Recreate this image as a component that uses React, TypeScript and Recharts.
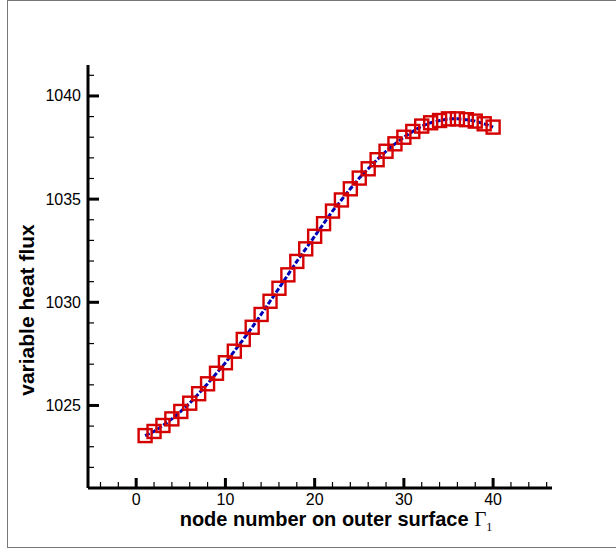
import * as React from "react";
import { LineChart, Line, XAxis, YAxis } from "recharts";

// node numbers on the outer surface
const NODES = [
  1, 2, 3, 4, 5, 6, 7, 8, 9, 10, 11, 12, 13, 14, 15, 16, 17, 18, 19, 20,
  21, 22, 23, 24, 25, 26, 27, 28, 29, 30, 31, 32, 33, 34, 35, 36, 37, 38, 39, 40,
];

// heat flux
const HEAT_FLUX = [
  1023.54, 1023.74, 1024.03, 1024.35, 1024.71, 1025.11, 1025.57, 1026.05, 1026.56, 1027.07,
  1027.63, 1028.2, 1028.79, 1029.41, 1030.05, 1030.68, 1031.33, 1031.98, 1032.59, 1033.2,
  1033.81, 1034.42, 1034.96, 1035.5, 1036.02, 1036.47, 1036.91, 1037.32, 1037.68, 1038.0,
  1038.28, 1038.54, 1038.7, 1038.81, 1038.89, 1038.89, 1038.85, 1038.78, 1038.65, 1038.49,
];

const X_TICKS = [-4, -2, 0, 2, 4, 6, 8, 10, 12, 14, 16, 18, 20, 22, 24, 26, 28, 30, 32, 34, 36, 38, 40, 42, 44, 46];
const Y_TICKS = [
  1021, 1022, 1023, 1024, 1025, 1026, 1027, 1028, 1029, 1030, 1031,
  1032, 1033, 1034, 1035, 1036, 1037, 1038, 1039, 1040, 1041,
];

const data = NODES.map((n, i) => ({ node: n, q: HEAT_FLUX[i] }));

const SANS = "'Liberation Sans', Arial, Helvetica, sans-serif";
const SERIF = "'Liberation Serif', 'Times New Roman', serif";

const XTick = (props: any) => {
  const { x, y, payload } = props;
  const v = payload.value;
  const major = v % 10 === 0;
  return (
    <g>
      <line x1={x} x2={x} y1={y} y2={y - (major ? 10 : 6)} stroke="#000" strokeWidth={major ? 3 : 1.2} />
      {major && (
        <text x={x} y={y + 17} textAnchor="middle" fontFamily={SANS} fontSize={16} fill="#000">
          {v}
        </text>
      )}
    </g>
  );
};

const YTick = (props: any) => {
  const { x, y, payload } = props;
  const v = payload.value;
  const major = v % 5 === 0;
  return (
    <g>
      <line x1={x} x2={x + (major ? 11 : 6)} y1={y} y2={y} stroke="#000" strokeWidth={major ? 3 : 1.2} />
      {major && (
        <text x={x - 7} y={y + 5.5} textAnchor="end" fontFamily={SANS} fontSize={16} fill="#000">
          {v}
        </text>
      )}
    </g>
  );
};

const SquareDot = (props: any) => {
  const { cx, cy, index } = props;
  if (cx == null || cy == null) return null;
  return (
    <rect
      key={`sq-${index}`}
      x={cx - 6.5}
      y={cy - 6.5}
      width={13}
      height={13}
      fill="none"
      stroke="#d40000"
      strokeWidth={2.4}
    />
  );
};

export default function App() {
  return (
    <div style={{ position: "absolute", left: 0, top: 0, width: 616, height: 552, background: "#fff" }}>
      <div
        style={{
          position: "absolute",
          left: 7,
          top: 0,
          width: 640,
          height: 548,
          border: "1px solid #777",
          boxSizing: "border-box",
        }}
      />
      <LineChart
        width={616}
        height={552}
        data={data}
        margin={{ top: 65, right: 64, bottom: 4, left: 28 }}
        style={{ position: "absolute", left: 0, top: 0 }}
      >
        <XAxis
          dataKey="node"
          type="number"
          domain={[-5.4, 46.6]}
          ticks={X_TICKS}
          interval={0}
          allowDataOverflow
          height={60}
          tickSize={0}
          tickMargin={0}
          tickLine={false}
          tick={<XTick />}
          axisLine={{ stroke: "#000", strokeWidth: 3 }}
          label={{
            content: () => (
              <text x={336} y={526} textAnchor="middle" fill="#000">
                <tspan fontFamily={SANS} fontWeight="bold" fontSize={20}>
                  node number on outer surface{" "}
                </tspan>
                <tspan fontFamily={SERIF} fontSize={21}>Γ</tspan>
                <tspan fontFamily={SERIF} fontSize={12} dy={5}>1</tspan>
              </text>
            ),
          }}
        />
        <YAxis
          type="number"
          domain={[1021, 1041.5]}
          ticks={Y_TICKS}
          interval={0}
          allowDataOverflow
          width={60}
          tickSize={0}
          tickMargin={0}
          tickLine={false}
          tick={<YTick />}
          axisLine={{ stroke: "#000", strokeWidth: 3 }}
          label={{
            content: () => (
              <text
                x={34}
                y={310}
                transform="rotate(-90, 34, 310)"
                textAnchor="middle"
                fontFamily={SANS}
                fontWeight="bold"
                fontSize={21}
                fill="#000"
              >
                variable heat flux
              </text>
            ),
          }}
        />
        <Line
          dataKey="q"
          type="linear"
          stroke="none"
          dot={<SquareDot />}
          activeDot={false}
          isAnimationActive={false}
        />
        <Line
          dataKey="q"
          type="linear"
          stroke="#0000b4"
          strokeWidth={3}
          strokeDasharray="5 2"
          dot={false}
          activeDot={false}
          isAnimationActive={false}
        />
      </LineChart>
    </div>
  );
}
